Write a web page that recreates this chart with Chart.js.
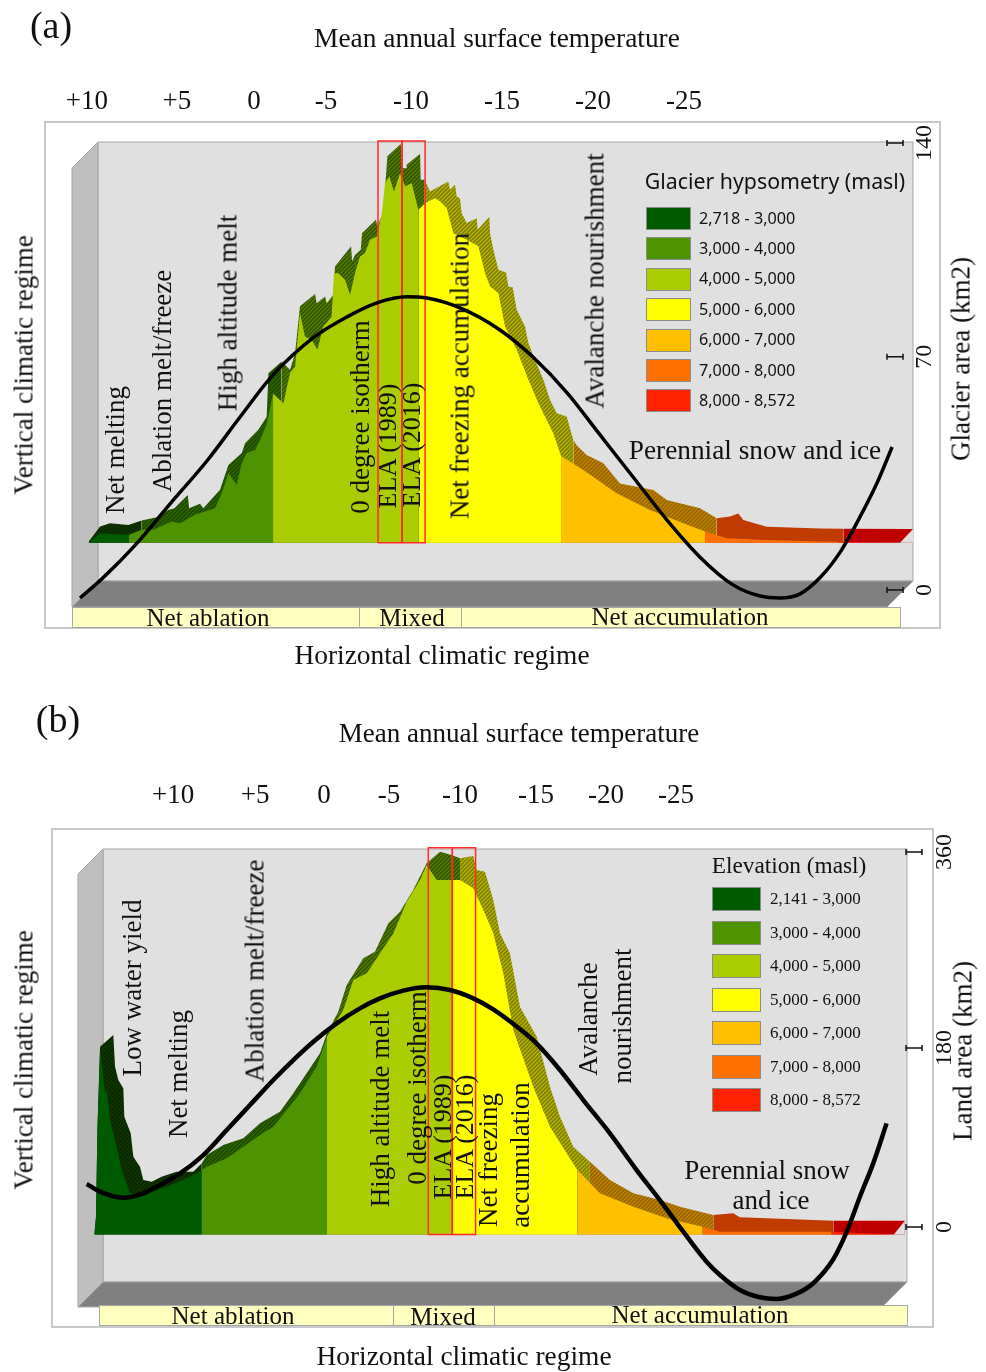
<!DOCTYPE html>
<html>
<head>
<meta charset="utf-8">
<title>Climatic regimes and hypsometry</title>
<script src="https://cdn.jsdelivr.net/npm/chart.js@4/dist/chart.umd.min.js"></script>
<style>
body { margin: 0; background: #fff; width: 986px; height: 1372px; overflow: hidden; position: relative; }
canvas { position: absolute; left: 0; }
.txt { position: absolute; white-space: nowrap; line-height: 1; color: #111; font-family: "Liberation Serif", serif; transform: translate(-50%, -50%); }
.frame { position: absolute; border: 2px solid #c8c8c8; box-sizing: border-box; }
.strip { position: absolute; background: #ffffc0; border: 1.5px solid #a6a6a6; box-sizing: border-box; }
.swatch { position: absolute; border: 1.5px solid #8c8c8c; box-sizing: border-box; }
</style>
</head>
<body>
<div class="frame" style="left:44px;top:121px;width:897px;height:508px"></div>
<div class="frame" style="left:51px;top:828px;width:883px;height:500px"></div>
<canvas id="chart-a" width="986" height="686" style="top:0"></canvas>
<canvas id="chart-b" width="986" height="686" style="top:686px"></canvas>
<script>
// panel (a): x is elevation in masl, y is glacier area in km2
const a_front_x = [2718, 2799, 3000, 3088, 3169, 3296, 3354, 3458, 3528, 3597, 3644, 3690, 3748, 3783, 3817, 3875, 3910, 3956, 4000, 4072, 4118, 4153, 4187, 4222, 4268, 4308, 4349, 4407, 4423, 4454, 4500, 4535, 4569, 4604, 4639, 4673, 4720, 4755, 4778, 4808, 4840, 4882, 4917, 4963, 5009, 5055, 5125, 5159, 5206, 5252, 5345, 5426, 5472, 5507, 5565, 5611, 5692, 5773, 5843, 5946, 6000, 6155, 6386, 6618, 6849, 7000, 7150, 7428, 7891, 7925, 8354];
const a_front_y = [14.8, 17.8, 17.3, 18.9, 18.9, 21.5, 20.9, 23.6, 24.6, 25.6, 30.3, 36.6, 33, 39.7, 42.9, 43.9, 47, 52, 61.6, 58.5, 68, 70, 86.8, 79.4, 78.4, 75.3, 82.6, 85.7, 99.3, 99.3, 97.2, 92.5, 99.3, 104.5, 105.6, 109.8, 110.8, 118.1, 127.5, 129.6, 124.9, 130.6, 126.5, 127.5, 119.2, 121.2, 122.8, 121.8, 119.7, 111.8, 109.8, 107.7, 99.3, 95.1, 93, 82.6, 75.3, 65.9, 58.5, 49.1, 42, 37.6, 30.3, 25.1, 20.9, 18.3, 16.2, 15.7, 15.1, 15.1, 14.8];
const a_back_x = [2720, 2799, 2868, 2995, 3088, 3192, 3273, 3315, 3408, 3417, 3493, 3516, 3632, 3690, 3783, 3806, 3898, 3956, 3968, 4060, 4118, 4153, 4187, 4292, 4303, 4361, 4373, 4419, 4430, 4542, 4549, 4569, 4609, 4618, 4715, 4724, 4766, 4794, 4887, 4896, 4924, 4928, 5021, 5025, 5053, 5090, 5217, 5229, 5264, 5275, 5298, 5310, 5345, 5414, 5421, 5502, 5507, 5530, 5565, 5618, 5634, 5664, 5692, 5750, 5773, 5819, 5877, 5923, 5970, 6039, 6085, 6108, 6178, 6294, 6409, 6641, 6734, 6965, 7081, 7173, 7231, 7266, 7428, 7798, 7960, 8444];
const a_back_y = [15.2, 19.9, 20.9, 20.4, 21.8, 22.8, 25.1, 25.6, 29.8, 25.6, 27, 25.6, 31.4, 39.2, 42.9, 46, 50.2, 54.3, 67.9, 71.6, 69, 74.2, 88.9, 92.8, 89.9, 92, 89.9, 92.5, 101.4, 107.7, 103, 105, 106.6, 111.8, 116, 114, 118.3, 135.9, 139.8, 132.2, 132.2, 133.3, 136.7, 128.6, 128.6, 124.9, 128, 125.4, 127, 123.3, 122.8, 118.1, 115, 116.5, 112.9, 117, 111.8, 106.6, 100.4, 99.5, 95.1, 94.9, 87.8, 82.6, 77.4, 72.1, 65.9, 59.6, 55.4, 54.4, 47, 45.4, 42.3, 39.7, 33.4, 31.3, 28.2, 25.6, 22.5, 23, 24, 21.9, 19.8, 19.3, 19.2, 19.1];
const a_curve_x = [2660, 2819, 3056, 3285, 3542, 3771, 4000, 4278, 4514, 4722, 4931, 5069, 5299, 5576, 5805, 6042, 6271, 6500, 6736, 6965, 7194, 7382, 7521, 7660, 7799, 7937, 8076, 8194, 8299];
const a_curve_y = [-2.5, 3.8, 14.7, 27, 40.5, 54.2, 67.4, 79, 85.6, 90, 91.9, 91.5, 88.4, 81.5, 73, 61.8, 48.6, 35.4, 21.9, 10.3, 1.6, -1.9, -2.5, -1.2, 3.9, 11.8, 22.9, 33.5, 44.8];
const a_front_edges = [2718, 3000, 4000, 5009, 6000, 7000, 7925, 8354];
const a_back_edges = [2720, 3088, 4060, 5053, 6085, 7081, 7960, 8444];
const a_ela = [4729, 4896, 5056];
const a_base = 14.8;
const a_top = 140.7;
const a_cut_x = [8354, 8444];
const a_cut_y = [14.8, 19.1];
const a_temp_pos = [2708, 3333, 3868, 4368, 4958, 5590, 6222, 6854];
const a_y_pos = [0, 73.1, 140.1];
const a_y_labels = ["0", "70", "140"];
const a_legend = ["2,718 - 3,000", "3,000 - 4,000", "4,000 - 5,000", "5,000 - 6,000", "6,000 - 7,000", "7,000 - 8,000", "8,000 - 8,572"];

// panel (b): x is elevation in masl, y is land area in km2
const b_front_x = [2141, 2155, 2166, 2187, 2227, 2240, 2267, 2320, 2360, 2426, 2560, 2719, 2906, 3000, 3039, 3199, 3332, 3465, 3571, 3678, 3784, 3917, 4000, 4130, 4210, 4317, 4423, 4530, 4636, 4743, 4796, 4876, 5000, 5062, 5168, 5249, 5328, 5408, 5488, 5648, 5781, 5914, 6000, 6180, 6447, 6713, 7000, 7139, 8030, 8528];
const b_front_y = [-7.1, 9.9, 93, 169.9, 128.3, 131.5, 102.7, 77.1, 54.7, 32.3, 32.3, 38.7, 48.3, 54.7, 57.9, 65.9, 77.1, 88.3, 96.3, 112.3, 128.3, 153.9, 183, 208.3, 237.1, 243.5, 262.7, 281.9, 312.3, 333.1, 347.5, 333.1, 333.1, 333.1, 325.1, 304.3, 281.9, 243.5, 189.1, 134.7, 96.3, 70.7, 54.7, 32.3, 19.5, 8.3, 0.3, -4.5, -4.5, -7.1];
const b_back_x = [2141, 2155, 2166, 2187, 2293, 2307, 2333, 2373, 2381, 2432, 2453, 2506, 2533, 2599, 2679, 2799, 2932, 3000, 3039, 3172, 3332, 3465, 3624, 3731, 3944, 4000, 4090, 4157, 4290, 4383, 4490, 4583, 4689, 4796, 4902, 4995, 5062, 5168, 5195, 5262, 5328, 5382, 5461, 5541, 5675, 5781, 5861, 5967, 6100, 6260, 6447, 6660, 6819, 7085, 7245, 7298, 8044, 8616];
const b_back_y = [-7.1, 9.9, 93, 173.1, 184.3, 153.9, 141.1, 133.1, 105.9, 89.9, 67.5, 57.9, 45.1, 43.5, 48.3, 53.1, 53.1, 61.1, 69.1, 78.7, 85.1, 99.5, 110.7, 128.3, 166.7, 185.9, 206.7, 232.3, 257.9, 264.3, 291.5, 302.7, 323.5, 349.1, 360.3, 357.1, 353.9, 356.1, 342.7, 341.1, 313.9, 281.9, 262.7, 211.5, 182.7, 134.7, 105.9, 77.1, 62.7, 45.1, 32.3, 25.9, 19.5, 11.5, 13.1, 9.3, 6, 6];
const b_curve_x = [2080, 2187, 2373, 2533, 2666, 2826, 3012, 3199, 3385, 3571, 3731, 3891, 4077, 4263, 4423, 4609, 4796, 4982, 5168, 5328, 5541, 5675, 5861, 6047, 6260, 6473, 6659, 6846, 7032, 7139, 7298, 7458, 7591, 7751, 7884, 8044, 8150, 8257, 8363, 8470];
const b_curve_y = [41.3, 33.9, 28.1, 32.3, 40.3, 51.5, 69.1, 93.1, 117.1, 141.1, 160.3, 177.9, 195.5, 209.9, 219.5, 226.9, 230.1, 227.5, 219.5, 209, 190, 176, 150.7, 121.9, 89.9, 54.7, 25.9, -4.5, -33.3, -46.1, -60.5, -67.5, -69.1, -64, -54, -31, -5, 29.1, 61.1, 99.5];
const b_front_edges = [2141, 3000, 4000, 5000, 6000, 7000, 8030, 8528];
const b_back_edges = [2141, 3000, 4000, 5062, 6100, 7085, 8044, 8616];
const b_ela = [4809, 5001, 5187];
const b_base = -7.1;
const b_top = 364;
const b_cut_x = [8528, 8616];
const b_cut_y = [-7.1, 6];
const b_temp_pos = [2770, 3425, 3976, 4495, 5062, 5669, 6228, 6787];
const b_y_pos = [0, 171.8, 360];
const b_y_labels = ["0", "180", "360"];
const b_legend = ["2,141 - 3,000", "3,000 - 4,000", "4,000 - 5,000", "5,000 - 6,000", "6,000 - 7,000", "7,000 - 8,000", "8,000 - 8,572"];

const temp_labels = ["+10", "+5", "0", "-5", "-10", "-15", "-20", "-25"];
const band_colors = ["#005a00", "#4e9300", "#a9cd00", "#ffff00", "#ffc000", "#ff7000", "#ff2200"];
const shade_colors = [["#0a2800", "#123a00"], ["#1f4a00", "#2f6a00"], ["#2f5500", "#5c8400"], ["#808000", "#b8b800"], ["#9a6400", "#c08a00"], ["#c03c00", "#c03c00"], ["#c00000", "#c00000"]];

function hatch(fg, bg) {
    const c = document.createElement("canvas");
    c.width = 4;
    c.height = 4;
    const g = c.getContext("2d");
    g.fillStyle = bg;
    g.fillRect(0, 0, 4, 4);
    g.strokeStyle = fg;
    g.lineWidth = 1.6;
    g.beginPath();
    g.moveTo(-1, 5);
    g.lineTo(5, -1);
    g.moveTo(-1, 1);
    g.lineTo(1, -1);
    g.moveTo(3, 5);
    g.lineTo(5, 3);
    g.stroke();
    return g.createPattern(c, "repeat");
}

function band_points(xs, ys, lo, hi) {
    const pts = [];
    xs.forEach((x, i) => {
        if (x >= lo && x <= hi) pts.push({x: x, y: ys[i]});
    });
    return pts;
}

function area_set(pts, color, base, order) {
    return {data: pts, backgroundColor: color, borderWidth: 0, pointRadius: 0, fill: {value: base}, order: order, clip: false};
}

// walls are drawn from the chart area, ticks from the y scale
const box_plugin = {
    id: "box3d",
    beforeDatasetsDraw(chart, args, opts) {
        const c = chart.ctx, r = chart.chartArea, d = opts.depth;
        const poly = (color, pts) => {
            c.fillStyle = color;
            c.strokeStyle = "#a6a6a6";
            c.lineWidth = 1;
            c.beginPath();
            pts.forEach((p, i) => i ? c.lineTo(p[0], p[1]) : c.moveTo(p[0], p[1]));
            c.closePath();
            c.fill();
            c.stroke();
        };
        poly("#e0e0e0", [[r.left + d, r.top], [r.right, r.top], [r.right, r.bottom - d], [r.left + d, r.bottom - d]]);
        poly("#bfbfbf", [[r.left, r.top + d], [r.left + d, r.top], [r.left + d, r.bottom - d], [r.left, r.bottom]]);
        poly("#808080", [[r.left, r.bottom], [r.left + d, r.bottom - d], [r.right, r.bottom - d], [r.right - d, r.bottom]]);
    },
    afterDatasetsDraw(chart, args, opts) {
        const c = chart.ctx, s = chart.scales.y, r = chart.chartArea;
        c.strokeStyle = "#111";
        c.lineWidth = 1.5;
        s.ticks.forEach((t) => {
            const y = s.getPixelForValue(t.value);
            const x0 = r.right + opts.tick_from, x1 = r.right + opts.tick_to;
            c.beginPath();
            c.moveTo(x0, y);
            c.lineTo(x1, y);
            c.moveTo(x0, y - 3);
            c.lineTo(x0, y + 3);
            c.moveTo(x1, y - 3);
            c.lineTo(x1, y + 3);
            c.stroke();
        });
    }
};

function make_chart(id, p) {
    const sets = [];
    for (let i = 0; i < 7; i++) {
        sets.push(area_set(band_points(p.back_x, p.back_y, p.back_edges[i], p.back_edges[i + 1]), hatch(shade_colors[i][0], shade_colors[i][1]), p.base, 6));
        sets.push(area_set(band_points(p.front_x, p.front_y, p.front_edges[i], p.front_edges[i + 1]), band_colors[i], p.base, 4));
    }
    sets.push(area_set(band_points(p.cut_x, p.cut_y, p.cut_x[0], p.cut_x[1]), "#e0e0e0", p.base, 5));
    [[p.ela[0], p.ela[1]], [p.ela[1], p.ela[2]]].forEach((e) => {
        sets.push({
            data: [{x: e[0], y: p.base}, {x: e[0], y: p.top}, {x: e[1], y: p.top}, {x: e[1], y: p.base}, {x: e[0], y: p.base}],
            borderColor: "#ff2a2a", borderWidth: 1.5, pointRadius: 0, fill: false, order: 3, clip: false
        });
    });
    sets.push({
        data: p.curve_x.map((x, i) => ({x: x, y: p.curve_y[i]})),
        borderColor: "#000", borderWidth: p.curve_width, pointRadius: 0, fill: false, cubicInterpolationMode: "monotone", order: 1, clip: false
    });
    return new Chart(document.getElementById(id), {
        type: "line",
        data: {datasets: sets},
        options: {
            responsive: false,
            animation: false,
            layout: {padding: p.padding},
            plugins: {legend: {display: false}, tooltip: {enabled: false}, box3d: p.box},
            scales: {
                x: {
                    type: "linear",
                    position: "top",
                    min: p.x_min,
                    max: p.x_max,
                    grid: {display: false, drawTicks: false},
                    border: {display: false},
                    ticks: {
                        autoSkip: false,
                        maxRotation: 0,
                        padding: p.x_pad,
                        color: "#111",
                        font: {family: "Liberation Serif", size: 27},
                        callback: (v, i) => temp_labels[i]
                    },
                    afterBuildTicks: (s) => { s.ticks = p.temp_pos.map((v) => ({value: v})); },
                    afterFit: (s) => { s.height = 80; }
                },
                y: {
                    type: "linear",
                    position: "right",
                    min: p.y_min,
                    max: p.y_max,
                    grid: {display: false, drawTicks: false},
                    border: {display: false},
                    ticks: {
                        autoSkip: false,
                        minRotation: 90,
                        maxRotation: 90,
                        crossAlign: "center",
                        padding: p.y_pad,
                        color: "#111",
                        font: {family: "Liberation Serif", size: 24},
                        callback: (v, i) => p.y_labels[i]
                    },
                    afterBuildTicks: (s) => { s.ticks = p.y_pos.map((v) => ({value: v})); },
                    afterFit: (s) => { s.width = 70; }
                }
            }
        },
        plugins: [box_plugin]
    });
}

make_chart("chart-a", {
    front_x: a_front_x, front_y: a_front_y, back_x: a_back_x, back_y: a_back_y, curve_x: a_curve_x, curve_y: a_curve_y,
    front_edges: a_front_edges, back_edges: a_back_edges, ela: a_ela, base: a_base, top: a_top, cut_x: a_cut_x, cut_y: a_cut_y,
    temp_pos: a_temp_pos, y_pos: a_y_pos, y_labels: a_y_labels,
    x_min: 2604, x_max: 8444, y_min: -5.33, y_max: 140.4, curve_width: 3.5,
    padding: {left: 72, right: 3, top: 62, bottom: 79}, x_pad: 24, y_pad: -6,
    box: {depth: 26, tick_from: -26, tick_to: -10}
});

make_chart("chart-b", {
    front_x: b_front_x, front_y: b_front_y, back_x: b_back_x, back_y: b_back_y, curve_x: b_curve_x, curve_y: b_curve_y,
    front_edges: b_front_edges, back_edges: b_back_edges, ela: b_ela, base: b_base, top: b_top, cut_x: b_cut_x, cut_y: b_cut_y,
    temp_pos: b_temp_pos, y_pos: b_y_pos, y_labels: b_y_labels,
    x_min: 2011, x_max: 8633, y_min: -76.8, y_max: 362.9, curve_width: 4.5,
    padding: {left: 78, right: 9, top: 83, bottom: 65}, x_pad: 37, y_pad: 20,
    box: {depth: 25, tick_from: -1, tick_to: 15}
});

function add(text, x, y, size, vertical, font) {
    const el = document.createElement("div");
    el.className = "txt";
    el.textContent = text;
    el.style.left = x + "px";
    el.style.top = y + "px";
    el.style.fontSize = size + "px";
    if (vertical) el.style.transform = "translate(-50%, -50%) rotate(-90deg)";
    if (font) el.style.fontFamily = font;
    document.body.appendChild(el);
}

function add_strip(x, y, w, h) {
    const el = document.createElement("div");
    el.className = "strip";
    el.style.cssText = "left:" + x + "px;top:" + y + "px;width:" + w + "px;height:" + h + "px";
    document.body.appendChild(el);
}

function add_legend(labels, x, y, w, h, step, text_x, size, font) {
    labels.forEach((t, i) => {
        const el = document.createElement("div");
        el.className = "swatch";
        el.style.cssText = "left:" + x + "px;top:" + (y + i * step) + "px;width:" + w + "px;height:" + h + "px;background:" + band_colors[i];
        document.body.appendChild(el);
        const n = document.createElement("div");
        n.className = "txt";
        n.textContent = t;
        n.style.cssText = "left:" + text_x + "px;top:" + (y + h / 2 + i * step - 1) + "px;font-size:" + size + "px;transform:translate(0,-50%);font-family:" + font;
        document.body.appendChild(n);
    });
}

// panel (a) text
add("(a)", 51, 25, 38);
add("Mean annual surface temperature", 497, 39, 27.4);
add("Vertical climatic regime", 24, 365, 27, true);
add("Horizontal climatic regime", 442, 656, 27.4);
add("Glacier area (km2)", 961, 359, 27, true);
add("Net melting", 115, 450, 27, true);
add("Ablation melt/freeze", 162, 381, 27, true);
add("High altitude melt", 228, 313, 27, true);
add("0 degree isotherm", 360, 417, 27, true);
add("ELA (1989)", 388, 446, 26, true);
add("ELA (2016)", 412, 445, 26, true);
add("Net freezing accumulation", 460, 376, 27, true);
add("Avalanche nourishment", 595, 281, 27, true);
add("Perennial snow and ice", 755, 451, 27.3);
add_strip(72, 607, 288, 21);
add_strip(359, 607, 103, 21);
add_strip(461, 607, 440, 21);
add("Net ablation", 208, 617, 25);
add("Mixed", 412, 617, 25);
add("Net accumulation", 680, 616, 25);
add("Glacier hypsometry (masl)", 775, 181, 21.3, false, "'Noto Sans'");
add_legend(a_legend, 646, 207, 45, 23, 30.4, 699, 16.2, "'Noto Sans'");

// panel (b) text
add("(b)", 58, 719, 38);
add("Mean annual surface temperature", 519, 733, 27);
add("Vertical climatic regime", 24, 1060, 27, true);
add("Horizontal climatic regime", 464, 1357, 27.4);
add("Land area (km2)", 963, 1051, 27, true);
add("Low water yield", 132, 988, 27, true);
add("Net melting", 178, 1074, 27, true);
add("Ablation melt/freeze", 255, 971, 27, true);
add("High altitude melt", 380, 1109, 27, true);
add("0 degree isotherm", 417, 1088, 27, true);
add("ELA (1989)", 443, 1137, 26, true);
add("ELA (2016)", 465, 1137, 26, true);
add("Net freezing", 488, 1160, 27, true);
add("accumulation", 520, 1155, 27, true);
add("Avalanche", 588, 1019, 27, true);
add("nourishment", 622, 1016, 27, true);
add("Perennial snow", 767, 1170, 27);
add("and ice", 771, 1200, 27);
add_strip(99, 1305, 295, 21);
add_strip(393, 1305, 102, 21);
add_strip(494, 1305, 414, 21);
add("Net ablation", 233, 1315, 25);
add("Mixed", 443, 1316, 25);
add("Net accumulation", 700, 1314, 25);
add("Elevation (masl)", 789, 866, 23.3);
add_legend(b_legend, 712, 887, 49, 24, 33.5, 770, 17, "'Liberation Serif'");
</script>
</body>
</html>
